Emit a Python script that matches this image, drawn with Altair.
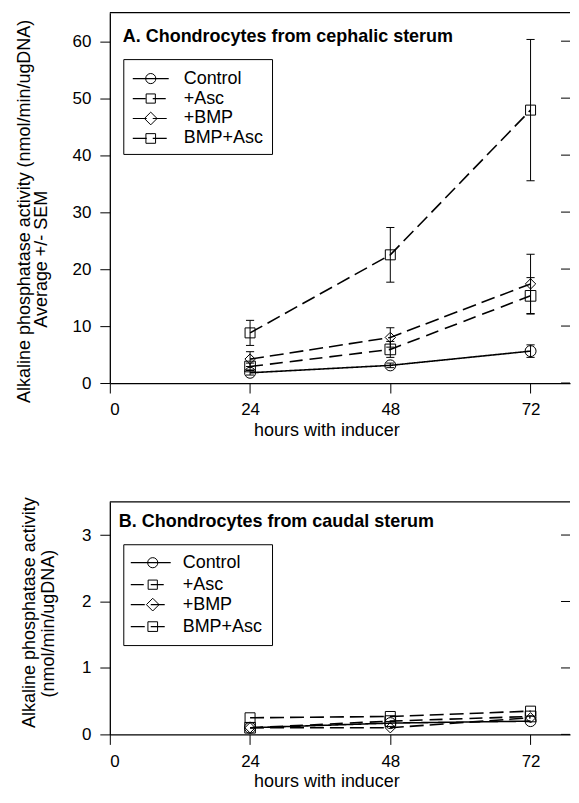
import altair as alt
import pandas as pd

FONT = "Liberation Sans"

hours = [24, 48, 72]
series = ["Control", "+Asc", "+BMP", "BMP+Asc"]

# Panel A: cephalic sterum (mean, SEM)
a_control = [1.8, 3.1, 5.6]
a_control_sem = [0.4, 0.4, 1.1]
a_asc = [2.9, 5.9, 15.3]
a_asc_sem = [0.6, 1.4, 3.2]
a_bmp = [4.2, 8.0, 17.4]
a_bmp_sem = [1.3, 1.7, 5.2]
a_bmpasc = [8.8, 22.5, 47.9]
a_bmpasc_sem = [2.2, 4.8, 12.4]

# Panel B: caudal sterum (mean)
b_control = [0.10, 0.17, 0.20]
b_asc = [0.10, 0.20, 0.27]
b_bmp = [0.10, 0.10, 0.25]
b_bmpasc = [0.25, 0.27, 0.35]
b_sem = [[0.0, 0.0, 0.0]] * 4

a_ticks = [0, 10, 20, 30, 40, 50, 60]
b_ticks = [0, 1, 2, 3]
x_ticks = [0, 24, 48, 72]
x_max = 78.75

shapes = ["circle", "square", "diamond", "square"]
sizes = [121, 100, 190, 110]
dashes = [[1, 0], [13, 7], [14, 6], [14, 6]]


def long_df(vals, sems):
    rows = []
    for s, v, e in zip(series, vals, sems):
        for h, vv, ee in zip(hours, v, e):
            rows.append({"series": s, "hour": h, "value": vv,
                         "lo": vv - ee, "hi": vv + ee})
    return pd.DataFrame(rows)


dfA = long_df([a_control, a_asc, a_bmp, a_bmpasc],
              [a_control_sem, a_asc_sem, a_bmp_sem, a_bmpasc_sem])
dfB = long_df([b_control, b_asc, b_bmp, b_bmpasc], b_sem)

W = 461


def one(text):
    return alt.Chart(pd.DataFrame({"t": [text]}))


def panel(df, H, ymax, yticks, title, tx, ty, ytitles, leg, xtitle_x, tpad, errors=True):
    xaxis = alt.Axis(values=x_ticks, title="hours with inducer",
                     titleX=xtitle_x, titlePadding=tpad, format="d")
    yaxis = alt.Axis(values=yticks, title=None, format="d")
    xsc = alt.Scale(domain=[0, x_max], nice=False)
    ysc = alt.Scale(domain=[0, ymax], nice=False)

    def X(f):
        return alt.X(f, scale=xsc, axis=xaxis, title="hours with inducer")

    def Y(f):
        return alt.Y(f, scale=ysc, axis=yaxis, title=None)

    dash = alt.StrokeDash("series:N", scale=alt.Scale(domain=series, range=dashes), legend=None)
    shp = alt.Shape("series:N", scale=alt.Scale(domain=series, range=shapes), legend=None)
    siz = alt.Size("series:N", scale=alt.Scale(domain=series, range=sizes), legend=None)

    base = alt.Chart(df)
    layers = []
    layers.append(base.mark_line(color="black", strokeWidth=1.6).encode(
        x=X("hour:Q"), y=Y("value:Q"), strokeDash=dash, detail="series:N"))
    if errors:
        layers.append(base.mark_rule(color="black", strokeWidth=1).encode(
            x=X("hour:Q"), y=Y("lo:Q"), y2="hi:Q"))
        caps = base.transform_calculate(xl="datum.hour - 0.7", xr="datum.hour + 0.7")
        for f in ["lo", "hi"]:
            layers.append(caps.mark_rule(color="black", strokeWidth=1).encode(
                x=X("xl:Q"), x2="xr:Q", y=Y(f + ":Q")))
    layers.append(base.mark_point(color="black", filled=False, strokeWidth=1, opacity=1).encode(
        x=X("hour:Q"), y=Y("value:Q"), shape=shp, size=siz))

    # right-hand inward ticks
    layers.append(alt.Chart(pd.DataFrame({"v": yticks})).mark_rule(color="black").encode(
        y=Y("v:Q"), x=alt.value(W - 9), x2=alt.value(W)))
    # top frame line
    layers.append(one("").mark_rule(color="black", strokeWidth=1.3).encode(
        x=alt.value(0), x2=alt.value(W), y=alt.value(0)))
    # panel title
    layers.append(one(title).mark_text(font=FONT, fontSize=18, fontWeight="bold", align="left",
                                       baseline="middle", color="black").encode(
        x=alt.value(tx), y=alt.value(ty), text="t:N"))
    # y-axis titles
    for (txt, xx, yy) in ytitles:
        layers.append(one(txt).mark_text(font=FONT, fontSize=18, angle=270, align="center",
                                         baseline="middle", color="black").encode(
            x=alt.value(xx), y=alt.value(yy), text="t:N"))
    # legend
    lx0, lx1, ly0, ly1, rows, line_x0, line_x1, mk_x, txt_x = leg
    layers.append(one("").mark_rect(fill="white", stroke="black", strokeWidth=1).encode(
        x=alt.value(lx0), x2=alt.value(lx1), y=alt.value(ly0), y2=alt.value(ly1)))
    for i, s in enumerate(series):
        yy = rows[i]
        layers.append(one(s).mark_rule(color="black", strokeWidth=1.2, strokeDash=dashes[i]).encode(
            x=alt.value(line_x0), x2=alt.value(line_x1), y=alt.value(yy)))
        layers.append(one(s).mark_point(color="black", filled=False, strokeWidth=1,
                                        shape=shapes[i], size=sizes[i] * 0.85, opacity=1).encode(
            x=alt.value(mk_x), y=alt.value(yy)))
        layers.append(one(s).mark_text(font=FONT, fontSize=18, align="left", baseline="middle",
                                       color="black").encode(
            x=alt.value(txt_x), y=alt.value(yy), text="t:N"))
    return alt.layer(*layers).properties(width=W, height=H)


topA = panel(
    dfA, 371, 65, a_ticks, "A. Chondrocytes from cephalic sterum", 13, 24,
    [("Alkaline phosphatase activity (nmol/min/ugDNA)", -85, 199),
     ("Average +/-  SEM", -68, 247)],
    (14, 163, 47, 142, [66, 86, 106, 126], 23, 59, 41, 74),
    217, 4,
)
botB = panel(
    dfB, 233, 3.5, b_ticks, "B. Chondrocytes from caudal sterum", 9, 20,
    [("Alkaline phosphatase activity", -80, 111),
     ("(nmol/min/ugDNA)", -61, 122)],
    (14, 163, 43, 144, [61, 83, 103, 125], 21, 61, 43, 73),
    217, 3,
    errors=False,
)

chart = alt.vconcat(topA, botB, spacing=119, bounds="flush").properties(
    padding={"left": 7, "top": 3, "right": 0, "bottom": 0}
).configure_view(strokeWidth=0).configure_axis(
    domainColor="black", tickColor="black", labelColor="black", titleColor="black",
    labelFont=FONT, titleFont=FONT, labelFontSize=17, titleFontSize=18,
    titleFontWeight="normal", tickSize=10, labelPadding=9, grid=False, domainWidth=1.3,
)

chart.save("out.html", embed_options={"renderer": "svg", "actions": False})
